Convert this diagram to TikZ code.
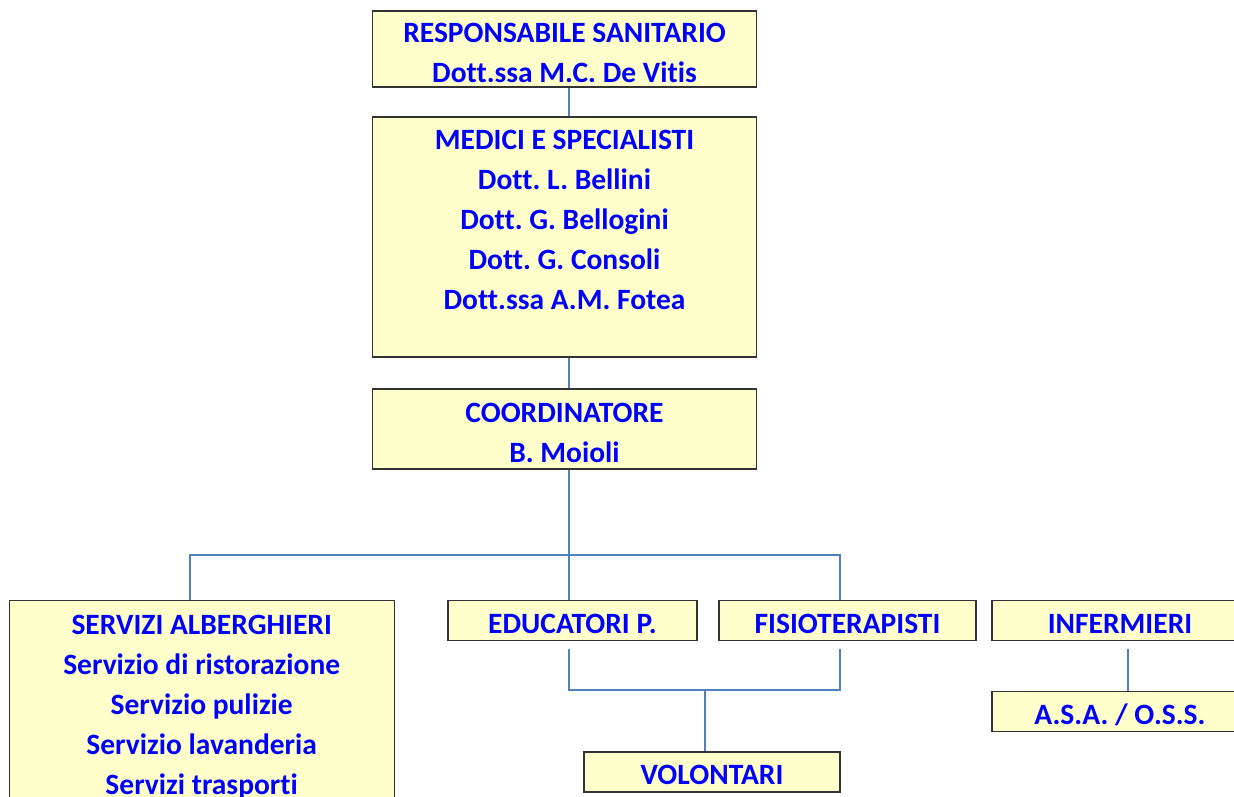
\documentclass[tikz,border=0pt]{standalone}
\usepackage{fontspec}
\setmainfont{Carlito}[Ligatures=NoCommon]
\usepackage{tikz}
\usetikzlibrary{positioning}
\definecolor{boxfill}{HTML}{FFFFCC}
\definecolor{boxtext}{HTML}{0000FF}
\definecolor{linkblue}{HTML}{4F81BD}
\frenchspacing

\begin{document}
\begin{tikzpicture}[x=1pt, y=-1pt,
  box/.style={draw=black!80, fill=boxfill, line width=1.3pt, inner sep=0pt,
    text=boxtext, font=\bfseries\fontsize{29.5}{40}\selectfont},
  single/.style={box, text height=25.7pt, text depth=0pt},
  lbl/.style={text=boxtext, font=\bfseries\fontsize{29.5}{40}\selectfont, align=center, inner sep=0pt},
  link/.style={draw=linkblue, line width=1.6pt}]
\clip (0,0) rectangle (1234,796);

% top of the chart
\node[box, minimum width=384, minimum height=76] (resp) at (564.5,49) {};
\node[lbl] (resptxt) at (564.5,52.5) {RESPONSABILE SANITARIO\\Dott.ssa M.C. De Vitis};
\node[box, minimum width=384, minimum height=240] (medici) at (564.5,237) {};
\node[lbl] (medicitxt) at (564.5,220)
  {MEDICI E SPECIALISTI\\Dott. L. Bellini\\Dott. G. Bellogini\\Dott. G. Consoli\\Dott.ssa A.M. Fotea};
\node[box, minimum width=384, minimum height=80] (coord) at (564.5,429) {};
\node[lbl] (coordtxt) at (564.5,432.5) {COORDINATORE\\B. Moioli};

% bottom row
\node[box, minimum width=385, minimum height=230] (serv) at (201.7,715.7) {};
\node[lbl] (servtxt) at (201.7,707.5)
  {SERVIZI ALBERGHIERI\\Servizio di ristorazione\\Servizio pulizie\\Servizio lavanderia\\Servizi trasporti};
\node[single, minimum width=249, minimum height=40] (educ) at (572.5,620.7) {EDUCATORI P.};
\node[single, minimum width=257, minimum height=40] (fisio) at (847.5,620.7) {FISIOTERAPISTI};
\node[single, minimum width=256, minimum height=40] (inferm) at (1120,620.7) {INFERMIERI};
\node[single, minimum width=256, minimum height=40] (asa) at (1120,711.5) {A.S.A. / O.S.S.};
\node[single, minimum width=256, minimum height=40] (volont) at (712,772) {VOLONTARI};

\coordinate (bus) at (569,555);
\coordinate (join) at (705,690);

\draw[link] ([xshift=4.5]resp.south) -- ([xshift=4.5]medici.north);
\draw[link] ([xshift=4.5]medici.south) -- ([xshift=4.5]coord.north);
\draw[link] ([xshift=4.5]coord.south) -- ([xshift=4.5]coord.south |- educ.north);
\draw[link] ([xshift=-11.7]serv.north) |- (bus) -| ([xshift=-7.5]fisio.north);
\draw[link] ([xshift=-3.5,yshift=-8]educ.south) |- (join) -| ([xshift=-7.5,yshift=-8]fisio.south);
\draw[link] (join) -- (join |- volont.north);
\draw[link] ([xshift=8,yshift=-8]inferm.south) -- ([xshift=8]asa.north);
\end{tikzpicture}
\end{document}
